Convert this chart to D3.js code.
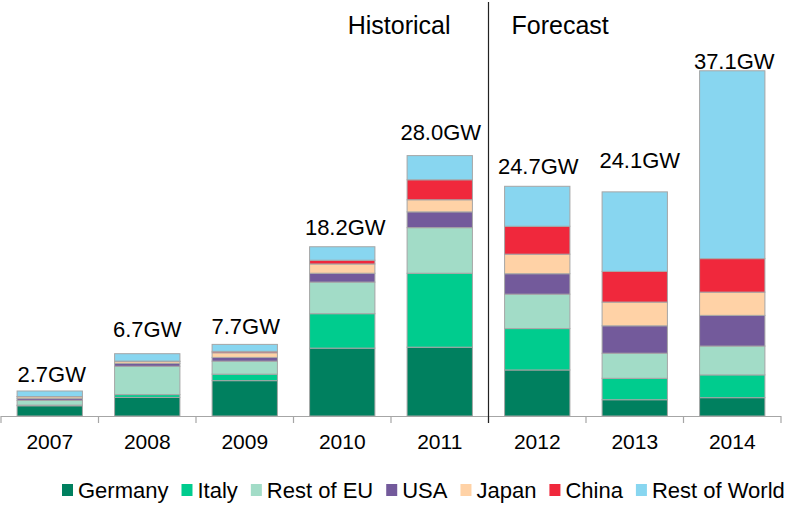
<!DOCTYPE html>
<html>
<head>
<meta charset="utf-8">
<script src="https://cdn.jsdelivr.net/npm/d3@7"></script>
<style>
  html, body { margin: 0; padding: 0; background: #fff; }
  svg { display: block; font-family: "Liberation Sans", Arial, sans-serif; }
</style>
</head>
<body>
<svg id="chart" width="807" height="527"></svg>
<script>
// ---- Data ----
const years = ["2007", "2008", "2009", "2010", "2011", "2012", "2013", "2014"];
const seriesNames = ["Germany", "Italy", "Rest of EU", "USA", "Japan", "China", "Rest of World"];
const germany   = [1.1, 2.0, 3.8, 7.3, 7.4, 4.95, 1.75, 1.97];
const italy     = [0.07, 0.3, 0.7, 3.7, 7.95, 4.45, 2.3, 2.45];
const restOfEU  = [0.5, 3.05, 1.4, 3.4, 4.9, 3.7, 2.7, 3.1];
const usa       = [0.2, 0.3, 0.4, 0.95, 1.7, 2.2, 2.95, 3.3];
const japan     = [0.2, 0.2, 0.5, 1.0, 1.3, 2.1, 2.55, 2.5];
const china     = [0.02, 0.05, 0.15, 0.4, 2.15, 3.0, 3.3, 3.6];
const restWorld = [0.6, 0.8, 0.75, 1.45, 2.6, 4.3, 8.55, 20.2];
const totalLabels = ["2.7GW", "6.7GW", "7.7GW", "18.2GW", "28.0GW", "24.7GW", "24.1GW", "37.1GW"];
const periodLabels = ["Historical", "Forecast"];

// ---- Styles / layout ----
const colors = ["#00805f", "#00cc8e", "#a2dcc7", "#735a9b", "#ffd2a6", "#f0283c", "#88d6f0"];
const labelGap = [9, 17, 10, 12, 16, 12, 24, 2];
const labelShift = [2, 0, 1, 3, 1, 1, 5, 2];

const svg = d3.select("#chart");
const baseY = 416;

const x = d3.scaleBand().domain(years).range([1, 781]).paddingInner(0.33).paddingOuter(0.165);
const y = d3.scaleLinear().domain([0, 40]).range([baseY, baseY - 372]);

const seriesValues = [germany, italy, restOfEU, usa, japan, china, restWorld];
const table = years.map((yr, i) => {
  const row = { year: yr };
  seriesNames.forEach((s, k) => row[s] = seriesValues[k][i]);
  return row;
});
const stacked = d3.stack().keys(seriesNames)(table);

// bars
svg.append("g").selectAll("g").data(stacked).join("g")
  .attr("fill", (d, k) => colors[k])
  .selectAll("rect").data(d => d).join("rect")
  .attr("x", d => x(d.data.year))
  .attr("width", x.bandwidth())
  .attr("y", d => y(d[1]))
  .attr("height", d => Math.max(0, y(d[0]) - y(d[1])))
  .attr("stroke", "#a6a6a6")
  .attr("stroke-width", 1);

// axis line + ticks
const axisG = svg.append("g");
axisG.append("line")
  .attr("x1", x.range()[0]).attr("x2", x.range()[1])
  .attr("y1", baseY + 0.5).attr("y2", baseY + 0.5)
  .attr("stroke", "#a6a6a6").attr("stroke-width", 1.2);
const tickXs = years.map(yr => x(yr) - x.step() * x.paddingOuter()).concat([x.range()[1]]);
axisG.selectAll("line.tick").data(tickXs).join("line")
  .attr("class", "tick")
  .attr("x1", d => d).attr("x2", d => d)
  .attr("y1", baseY).attr("y2", baseY + 7)
  .attr("stroke", "#a6a6a6").attr("stroke-width", 1.2);

// category labels
svg.append("g").selectAll("text").data(years).join("text")
  .attr("x", d => x(d) + x.bandwidth() / 2)
  .attr("y", 449)
  .attr("text-anchor", "middle")
  .attr("font-size", 21)
  .attr("fill", "#000")
  .text(d => d);

// total labels
svg.append("g").selectAll("text").data(years).join("text")
  .attr("x", (d, i) => x(d) + x.bandwidth() / 2 + labelShift[i])
  .attr("y", (d, i) => y(d3.sum(seriesValues, s => s[i])) - labelGap[i])
  .attr("text-anchor", "middle")
  .attr("font-size", 22)
  .attr("fill", "#000")
  .text((d, i) => totalLabels[i]);

// divider between historical and forecast
const divX = x("2012") - x.step() * x.paddingInner() / 2;
svg.append("line")
  .attr("x1", divX).attr("x2", divX)
  .attr("y1", 2).attr("y2", baseY + 7)
  .attr("stroke", "#222").attr("stroke-width", 1.2);

svg.append("text").attr("x", divX - 38).attr("y", 34)
  .attr("text-anchor", "end").attr("font-size", 25).text(periodLabels[0]);
svg.append("text").attr("x", divX + 23).attr("y", 34)
  .attr("text-anchor", "start").attr("font-size", 25).text(periodLabels[1]);

// legend
const legend = svg.append("g");
let lx = 62;
seriesNames.forEach((name, k) => {
  legend.append("rect")
    .attr("x", lx).attr("y", 484).attr("width", 11).attr("height", 12)
    .attr("fill", colors[k]);
  const t = legend.append("text")
    .attr("x", lx + 16).attr("y", 498)
    .attr("font-size", 22)
    .attr("fill", "#000")
    .text(name);
  lx += 16 + t.node().getComputedTextLength() + 13;
});
</script>
</body>
</html>
